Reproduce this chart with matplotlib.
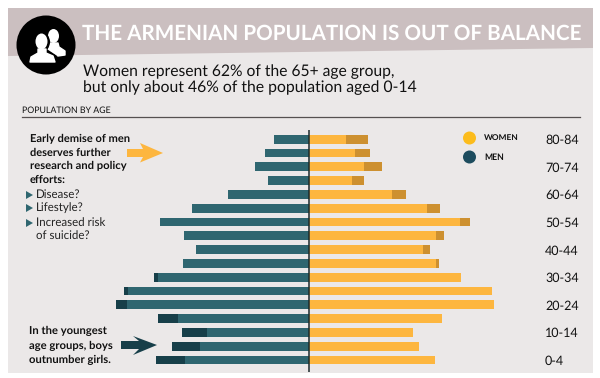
import matplotlib
matplotlib.use("Agg")
import matplotlib.pyplot as plt
from matplotlib.patches import Rectangle, Polygon, Circle, Ellipse

ages = ['0-4','5-9','10-14','15-19','20-24','25-29','30-34','35-39','40-44',
        '45-49','50-54','55-59','60-64','65-69','70-74','75-79','80-84']
tick_labels = ['0-4','','10-14','','20-24','','30-34','','40-44','','50-54','','60-64','','70-74','','80-84']
# shared part of each side, then the excess of the larger sex
men_core = [124,109,102,131,182,181,151,126,113,125,149,117,81,41,54,44,35]
men_excess = [29,28,25,20,11,4,4,0,0,0,0,0,0,0,0,0,0]
women_core = [126,110,104,133,185,183,152,127,114,127,151,118,83,43,55,46,37]
women_excess = [0,0,0,0,0,0,0,3,7,8,10,13,14,12,18,15,22]

GREY='#ebe8e8'; BAND='#cbbfc0'; TEAL='#2f6670'; TEAL_D='#173f49'; GOLD='#fdb63f'; GOLD_D='#cd9030'
plt.rcParams['font.family']=['Lato','DejaVu Sans']
plt.rcParams['text.hinting']='none'

fig=plt.figure(figsize=(6,3.78),dpi=100,facecolor='white')
bg=fig.add_axes([0,0,1,1]); bg.set_xlim(0,600); bg.set_ylim(378,0); bg.axis('off')
bg.add_patch(Rectangle((8,8),585,365,fc=GREY,ec='none'))
bg.add_patch(Polygon([(8,8),(593,8),(593,48),(8,56)],fc=BAND,ec='none'))
bg.add_patch(Circle((46,45),29.5,fc='black',ec='none',zorder=3))
# icon: rear figure
bg.add_patch(Ellipse((53.5,36),11,14,fc='white',ec='none',zorder=4))
bg.add_patch(Polygon([(50,43),(58,43),(59,47),(65,51),(65,55),(58,56),(48,50)],fc='white',ec='white',lw=1,joinstyle='round',zorder=4))
# icon: front figure with black halo
bg.add_patch(Ellipse((41.5,42),17,20,fc='black',ec='none',zorder=5))
bg.add_patch(Polygon([(26,64),(29,55),(37,50),(47,50),(56,56),(58,64)],fc='black',ec='black',lw=1,zorder=5))
bg.add_patch(Ellipse((41.5,41.5),12,16,fc='white',ec='none',zorder=6))
bg.add_patch(Polygon([(30,62),(31,57),(38,53),(38,49),(46,49),(46,53),(53,56),(55,62)],fc='white',ec='white',lw=1,joinstyle='round',zorder=6))

rend=fig.canvas.get_renderer()
def fit(t,w):
    """scale a text so that it spans w pixels"""
    t.set_fontsize(t.get_fontsize()*w/t.get_window_extent(rend).width)
    return t

fit(bg.text(82,33.5,'THE ARMENIAN POPULATION IS OUT OF BALANCE',color='white',fontweight='bold',fontsize=15,va='center',ha='left',zorder=5),501)
fit(bg.text(83,72,'Women represent 62% of the 65+ age group,',color='#111111',fontsize=11,va='center'),312)
fit(bg.text(83,88,'but only about 46% of the population aged 0-14',color='#111111',fontsize=11,va='center'),333)
fit(bg.text(22,110.5,'POPULATION BY AGE',color='#111111',fontsize=6.5,va='center'),88)
bg.plot([22,580],[116.5,116.5],color='#555050',lw=0.9)

for y,t,w in zip([138.5,152.5,166,180],['Early demise of men','deserves further','research and policy','efforts:'],[100,81,97,36]):
    fit(bg.text(30,y,t,fontweight='bold',fontsize=8,color='#111111',va='center'),w)
for y,t in zip([195,208,223,236],['Disease?','Lifestyle?','Increased risk','of suicide?']):
    bg.text(36,y,t,fontsize=8.3,color='#222222',va='center')
for y in [195,208,223]:
    bg.add_patch(Polygon([(26,y-4),(33,y),(26,y+4)],fc=TEAL,ec='none'))
for y,t,w in zip([331,346,360],['In the youngest','age groups, boys','outnumber girls.'],[78,84,82]):
    fit(bg.text(29,y,t,fontweight='bold',fontsize=8,color='#111111',va='center'),w)
bg.add_patch(Polygon([(127,149),(143,149),(140,143),(163,153),(140,162.5),(143,157),(127,157)],fc=GOLD,ec='none'))
bg.add_patch(Polygon([(121,341),(139,341),(133,336),(157,345),(133,355),(139,349),(121,349)],fc=TEAL_D,ec='none'))

# legend
bg.add_patch(Circle((469.5,138),6.5,fc='#fcbc1c',ec='none'))
bg.add_patch(Circle((469.5,157),6.5,fc='#1d4c5e',ec='none'))
fit(bg.text(484,138,'WOMEN',fontweight='bold',fontsize=6.8,color='#111111',va='center'),35)
fit(bg.text(484,157,'MEN',fontweight='bold',fontsize=6.8,color='#111111',va='center'),20)

# pyramid: axes spans 100..500 px, y 130..372 px
ax=fig.add_axes([100/600,1-372/378,400/600,242/378])
ax.patch.set_alpha(0)
ax.set_xlim(-209,191)
ypos=list(range(len(ages)))
ax.set_ylim(-0.87,16.67)
h=0.64
ax.barh(ypos,[-v for v in men_core],height=h,color=TEAL)
ax.barh(ypos,[-v for v in men_excess],left=[-v for v in men_core],height=h,color=TEAL_D)
ax.barh(ypos,women_core,height=h,color=GOLD)
ax.barh(ypos,women_excess,left=women_core,height=h,color=GOLD_D)
ax.axvline(0,color='#1c2a2c',lw=1.1)
for s in ax.spines.values(): s.set_visible(False)
ax.set_xticks([])
ax.yaxis.tick_right()
ax.set_yticks(ypos); ax.set_yticklabels(tick_labels,fontsize=9,color='#111111')
for lab in ax.get_yticklabels():
    lab.set_horizontalalignment('left')
ax.tick_params(axis='y',length=0,pad=32.4)
fig.savefig('out.png',dpi=100)
